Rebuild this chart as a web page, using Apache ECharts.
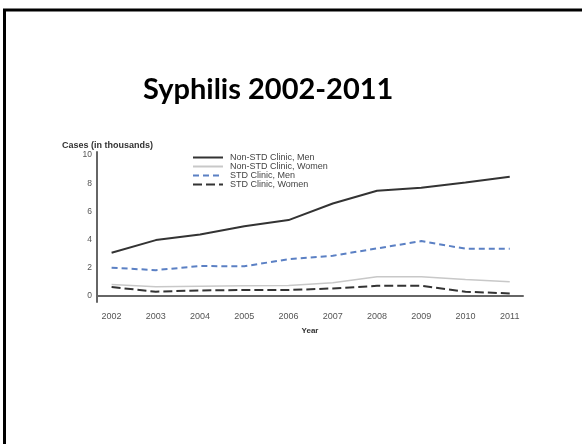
<!DOCTYPE html>
<html>
<head>
<meta charset="utf-8">
<script src="https://cdn.jsdelivr.net/npm/echarts@6/dist/echarts.min.js"></script>
<style>
  html, body { margin: 0; padding: 0; background: #fff; }
  #chart { width: 582px; height: 444px; }
</style>
</head>
<body>
<div id="chart"></div>
<script>
// Reported syphilis cases (thousands) by clinic type and sex
const years = [2002, 2003, 2004, 2005, 2006, 2007, 2008, 2009, 2010, 2011];
const nonStdMen   = [3.07, 3.97, 4.37, 4.96, 5.39, 6.57, 7.47, 7.68, 8.06, 8.46];
const nonStdWomen = [0.83, 0.66, 0.70, 0.73, 0.75, 0.94, 1.37, 1.37, 1.18, 1.01];
const stdMen      = [2.01, 1.84, 2.13, 2.11, 2.62, 2.86, 3.38, 3.90, 3.36, 3.36];
const stdWomen    = [0.64, 0.31, 0.40, 0.43, 0.43, 0.54, 0.73, 0.73, 0.31, 0.19];
const yTicks = [0, 2, 4, 6, 8, 10];
const seriesNames = ['Non-STD Clinic, Men', 'Non-STD Clinic, Women', 'STD Clinic, Men', 'STD Clinic, Women'];

const pairs = arr => years.map((y, i) => [y, arr[i]]);
const font = 'Liberation Sans, Arial, sans-serif';

const chart = echarts.init(document.getElementById('chart'), null, { renderer: 'canvas' });
chart.setOption({
  backgroundColor: '#fff',
  animation: false,
  title: {
    text: 'Syphilis 2002-2011',
    left: 138,
    top: 70,
    textStyle: { fontFamily: 'Lato, Open Sans, sans-serif', fontWeight: 'bold', fontSize: 29, color: '#000' }
  },
  graphic: [
    {
      type: 'rect',
      shape: { x: 4.5, y: 10, width: 700, height: 600 },
      style: { fill: 'none', stroke: '#000', lineWidth: 3 },
      silent: true
    },
    {
      type: 'text',
      left: 62, top: 141,
      style: { text: 'Cases (in thousands)', font: 'bold 9px ' + font, fill: '#333' }
    }
  ],
  legend: {
    orient: 'vertical',
    left: 192,
    top: 153,
    itemWidth: 30,
    itemHeight: 8.6,
    itemGap: 0,
    padding: 0,
    data: seriesNames,
    itemStyle: { opacity: 0 },
    textStyle: { fontFamily: font, fontSize: 9, lineHeight: 8.6, color: '#444', padding: [0, 0, 0, 2] }
  },
  grid: { left: 97, right: 59, top: 152, bottom: 142, containLabel: false },
  xAxis: {
    type: 'value',
    min: 2001.67,
    max: 2011.3,
    name: 'Year',
    nameLocation: 'middle',
    nameGap: 25,
    nameTextStyle: { fontFamily: font, fontWeight: 'bold', fontSize: 8, color: '#333' },
    axisLine: { show: true, lineStyle: { color: '#666', width: 2 } },
    axisTick: { show: false },
    splitLine: { show: false },
    axisLabel: {
      customValues: years,
      formatter: v => String(v),
      fontFamily: font, fontSize: 9, color: '#555', margin: 10
    }
  },
  yAxis: {
    type: 'value',
    min: -0.42,
    max: 10.22,
    axisLine: { show: true, lineStyle: { color: '#666', width: 2 } },
    axisTick: { show: false },
    splitLine: { show: false },
    axisLabel: {
      customValues: yTicks,
      fontFamily: font, fontSize: 8.5, color: '#555', margin: 5
    }
  },
  series: [
    {
      name: seriesNames[0], type: 'line', data: pairs(nonStdMen), symbol: 'none',
      lineStyle: { color: '#333', width: 2 }, itemStyle: { color: '#333' }
    },
    {
      name: seriesNames[1], type: 'line', data: pairs(nonStdWomen), symbol: 'none',
      lineStyle: { color: '#c8c8c8', width: 1.5 }, itemStyle: { color: '#c8c8c8' }
    },
    {
      name: seriesNames[2], type: 'line', data: pairs(stdMen), symbol: 'none',
      lineStyle: { color: '#5b80c4', width: 2, type: [6, 4] }, itemStyle: { color: '#5b80c4' }
    },
    {
      name: seriesNames[3], type: 'line', data: pairs(stdWomen), symbol: 'none',
      lineStyle: { color: '#333', width: 2, type: [9, 4] }, itemStyle: { color: '#333' }
    }
  ]
});
</script>
</body>
</html>
